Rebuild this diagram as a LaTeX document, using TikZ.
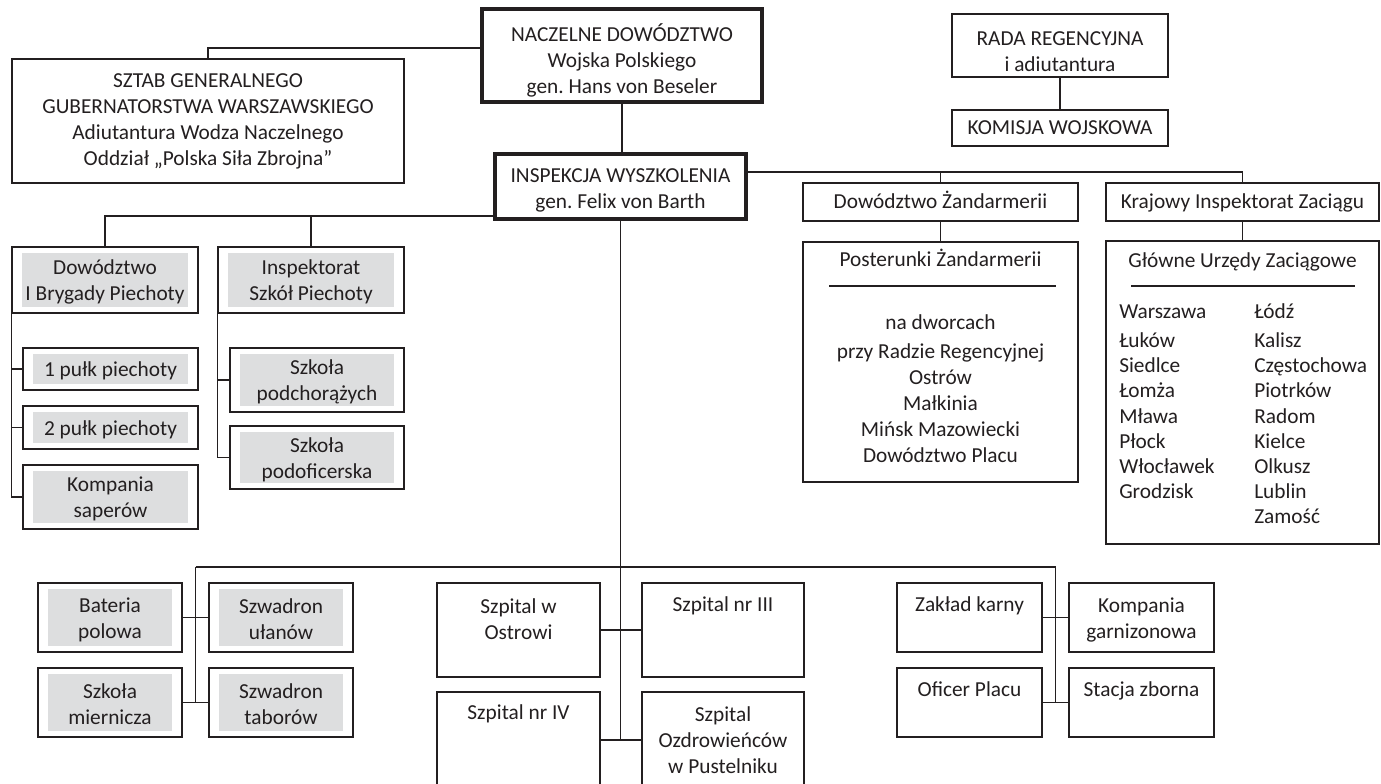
\documentclass[tikz,border=0pt]{standalone}
\usepackage{fontspec}
\setmainfont{Carlito}
\usetikzlibrary{fit,calc}
\definecolor{ink}{RGB}{35,31,32}
\definecolor{greyfill}{RGB}{221,222,223}
\newcommand\mkbox[4]{\node[#1, fit={(#3)(#4)}] (#2) {};}
\newcommand\gbox[4]{%
  \node[box, fit={(#2)(#3)}] (#1) {};
  \node[greybg, fit={([shift={(11,7)}]#1.north west)([shift={(-11,-7)}]#1.south east)}] (#1-in) {};
  \node[txt] (#1-t) at (#1-in.center) {#4};}
\frenchspacing
\begin{document}
\begin{tikzpicture}[x=0.75pt,y=-0.75pt,
  every node/.style={font=\fontsize{16}{19.5}\selectfont, text=ink},
  box/.style={draw=ink, line width=1.1pt, fill=white, inner sep=0pt},
  thickbox/.style={draw=ink, line width=2.5pt, fill=white, inner sep=0pt},
  greybg/.style={fill=greyfill, draw=none, inner sep=0pt},
  txt/.style={align=center, inner sep=0pt, yshift=-1.5pt},
  one/.style={inner sep=0pt, text height=0.7em, text depth=0.22em, yshift=-2.5pt},
  city/.style={one, anchor=west},
  conn/.style={draw=ink, line width=1.1pt}]
\useasboundingbox (0,0) rectangle (1381,784);
\clip (0,0) rectangle (1381,784);

% top level
\mkbox{box}{sztab}{12,59}{404,183}
\node[txt] (sztab-t) at (sztab.north |- 0,119.5) {SZTAB GENERALNEGO\\GUBERNATORSTWA WARSZAWSKIEGO\\Adiutantura Wodza Naczelnego\\Oddział „Polska Siła Zbrojna”};
\mkbox{thickbox}{nacz}{482,9}{762,102}
\node[txt] (nacz-t) at (nacz.north |- 0,58) {NACZELNE DOWÓDZTWO\\Wojska Polskiego\\gen. Hans von Beseler};
\mkbox{box}{rada}{952,14}{1168,77}
\node[txt] (rada-t) at (rada.north |- 0,49.5) {RADA REGENCYJNA\\i adiutantura};
\mkbox{box}{kom}{952,110}{1168,146}
\node[one] (kom-t) at (kom.center) {KOMISJA WOJSKOWA};
\mkbox{thickbox}{insp}{495,154}{746,219}
\node[txt] (insp-t) at (insp.north |- 0,188.5) {INSPEKCJA WYSZKOLENIA\\gen. Felix von Barth};

% right branch
\mkbox{box}{zand}{803,183}{1078,221}
\node[one] (zand-t) at (zand.center) {Dowództwo Żandarmerii};
\mkbox{box}{post}{803,242}{1078,482}
\node[one] (post-h) at (post.north |- 0,260) {Posterunki Żandarmerii};
\draw[conn] (829,286) -- (1056,286);
\node[txt] (post-t) at (post.north |- 0,387) {na dworcach\\[2pt]przy Radzie Regencyjnej\\Ostrów\\Małkinia\\Mińsk Mazowiecki\\Dowództwo Placu};
\mkbox{box}{kraj}{1106,183}{1379,221}
\node[one] (kraj-t) at (kraj.center) {Krajowy Inspektorat Zaciągu};
\mkbox{box}{glow}{1106,241}{1379,544}
\node[one] (glow-h) at (glow.north |- 0,261) {Główne Urzędy Zaciągowe};
\draw[conn] (1131,286) -- (1355,286);
\foreach \c/\y [count=\i] in {Warszawa/312,Łuków/341,Siedlce/366.2,Łomża/391.4,Mława/416.6,Płock/441.8,Włocławek/467,Grodzisk/492.2}
  \node[city] (ca\i) at (1119,\y) {\c};
\foreach \c/\y [count=\i] in {Łódź/312,Kalisz/341,Częstochowa/366.2,Piotrków/391.4,Radom/416.6,Kielce/441.8,Olkusz/467,Lublin/492.2,Zamość/517.4}
  \node[city] (cb\i) at (1254,\y) {\c};

% left branch
\gbox{bryg}{12,247}{198,313}{Dowództwo\\I Brygady Piechoty}
\gbox{insps}{218,247}{404,313}{Inspektorat\\Szkół Piechoty}
\gbox{p1}{23,348}{198,390}{1 pułk piechoty}
\gbox{p2}{23,406}{198,449}{2 pułk piechoty}
\gbox{kps}{23,465}{198,529}{Kompania\\saperów}
\gbox{podch}{230,348}{404,412}{Szkoła\\podchorążych}
\gbox{podof}{230,426}{404,489}{Szkoła\\podoficerska}

% bottom groups
\gbox{bat}{38,583}{182,652}{Bateria\\polowa}
\gbox{ulan}{209,583}{353,652}{Szwadron\\ułanów}
\gbox{mier}{38,668}{182,737}{Szkoła\\miernicza}
\gbox{tab}{209,668}{353,737}{Szwadron\\taborów}

\mkbox{box}{ostr}{437,583}{600,677}
\node[txt] (ostr-t) at (ostr.north |- 0,617.5) {Szpital w\\Ostrowi};
\mkbox{box}{nr3}{642,583}{804,677}
\node[one] (nr3-t) at (nr3.north |- 0,605) {Szpital nr III};
\mkbox{box}{nr4}{437,692}{600,788}
\node[one] (nr4-t) at (nr4.north |- 0,713) {Szpital nr IV};
\mkbox{box}{ozd}{642,692}{804,788}
\node[txt] (ozd-t) at (ozd.north |- 0,738) {Szpital\\Ozdrowieńców\\w Pustelniku};

\mkbox{box}{zk}{897,583}{1042,652}
\node[one] (zk-t) at (zk.north |- 0,605) {Zakład karny};
\mkbox{box}{kg}{1069,583}{1214,652}
\node[txt] (kg-t) at (kg.center) {Kompania\\garnizonowa};
\mkbox{box}{of}{897,668}{1042,737}
\node[one] (of-t) at (of.north |- 0,690) {Oficer Placu};
\mkbox{box}{sz}{1069,668}{1214,737}
\node[one] (sz-t) at (sz.north |- 0,690) {Stacja zborna};

% connectors
\coordinate (j-sz) at (sztab.north |- 0,48);
\draw[conn] (nacz.west |- j-sz) -- (j-sz) -- (sztab.north);
\draw[conn] (nacz.south) -- (nacz.south |- insp.north);
\draw[conn] (rada.south) -- (kom.north);
\coordinate (j-r) at (kraj.north |- 0,172);
\draw[conn] (insp.east |- j-r) -- (j-r) -- (kraj.north);
\draw[conn] (zand.north |- j-r) -- (zand.north);
\draw[conn] (zand.south) -- (post.north);
\draw[conn] (kraj.south) -- (glow.north);
\coordinate (j-l) at (bryg.north |- 0,216);
\draw[conn] (insp.west |- j-l) -- (j-l) -- (bryg.north);
\draw[conn] (insps.north |- j-l) -- (insps.north);
\draw[conn] (bryg.south west) |- (kps.west);
\draw[conn] (bryg.south west |- p1.west) -- (p1.west);
\draw[conn] (bryg.south west |- p2.west) -- (p2.west);
\draw[conn] (insps.south west) |- (podof.west);
\draw[conn] (insps.south west |- podch.west) -- (podch.west);
\coordinate (m-end) at (insp.south |- nr4.east);
\draw[conn] (insp.south) -- (m-end);
\coordinate (hl) at (195.5,567);
\coordinate (hr) at (1055.5,567);
\draw[conn] (hl) -- (hr);
\draw[conn] (hl) -- (hl |- mier.east);
\draw[conn] (hr) -- (hr |- of.east);
\draw[conn] (bat.east) -- (ulan.west);
\draw[conn] (mier.east) -- (tab.west);
\draw[conn] (ostr.east) -- (nr3.west);
\draw[conn] (nr4.east) -- (ozd.west);
\draw[conn] (zk.east) -- (kg.west);
\draw[conn] (of.east) -- (sz.west);
\end{tikzpicture}
\end{document}
